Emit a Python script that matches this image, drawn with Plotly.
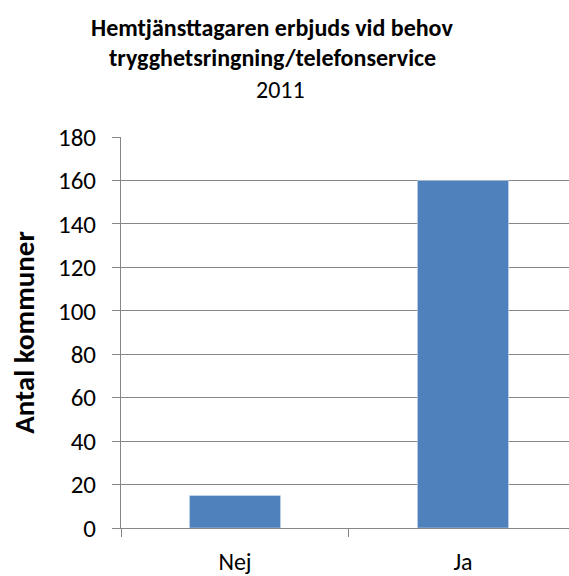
import plotly.graph_objects as go

# data
categories = ["Nej", "Ja"]
counts = [15, 160]
y_ticks = [0, 20, 40, 60, 80, 100, 120, 140, 160, 180]

title_lines = ["Hemtjänsttagaren erbjuds vid behov", "trygghetsringning/telefonservice"]
subtitle = "2011"
y_title = "Antal kommuner"

FONT = "Calibri, Carlito, Lato, 'Open Sans', sans-serif"
BAR = "#4F81BD"
GRID = "#868686"

fig = go.Figure()
fig.add_trace(go.Bar(x=categories, y=counts, marker_color=BAR, width=0.4))

# title lines placed by pixel (plot area spans x 121..569, y 137..528)
def py(pix):
    return (528 - pix) / (528 - 137)

def px_(pix):
    return (pix - 121) / (569 - 121)

for text, xp, yp, bold in [(title_lines[0], 272, 27, True),
                           (title_lines[1], 272, 57, True),
                           (subtitle, 280, 89, False)]:
    fig.add_annotation(text=f"<b>{text}</b>" if bold else text,
                       x=px_(xp), y=py(yp), xref="paper", yref="paper",
                       xanchor="center", yanchor="middle",
                       showarrow=False, font=dict(size=24))

fig.update_layout(
    width=569, height=576,
    margin=dict(l=121, r=0, t=137, b=48),
    paper_bgcolor="white", plot_bgcolor="white",
    font=dict(family=FONT, size=24, color="black"),
    showlegend=False,
)
fig.update_xaxes(
    range=[-0.5, 1.465], tickson="boundaries",
    showline=True, linecolor=GRID, linewidth=1,
    ticks="outside", ticklen=8, tickcolor=GRID,
    ticklabelstandoff=12,
    showgrid=False, tickfont=dict(size=24),
)
fig.update_yaxes(
    range=[0, 180], tickvals=y_ticks,
    showline=True, linecolor=GRID, linewidth=1,
    showgrid=True, gridcolor=GRID, gridwidth=1,
    ticks="outside", ticklen=8, tickcolor=GRID,
    ticklabelstandoff=11,
    tickfont=dict(size=25), zeroline=False,
    title=dict(text=f"<b>{y_title}</b>", font=dict(size=29), standoff=14),
)

# drop the default page margin so the figure fills the window exactly
fig.write_html("out.html", config={"displayModeBar": False},
               post_script="document.body.style.margin='0';")
